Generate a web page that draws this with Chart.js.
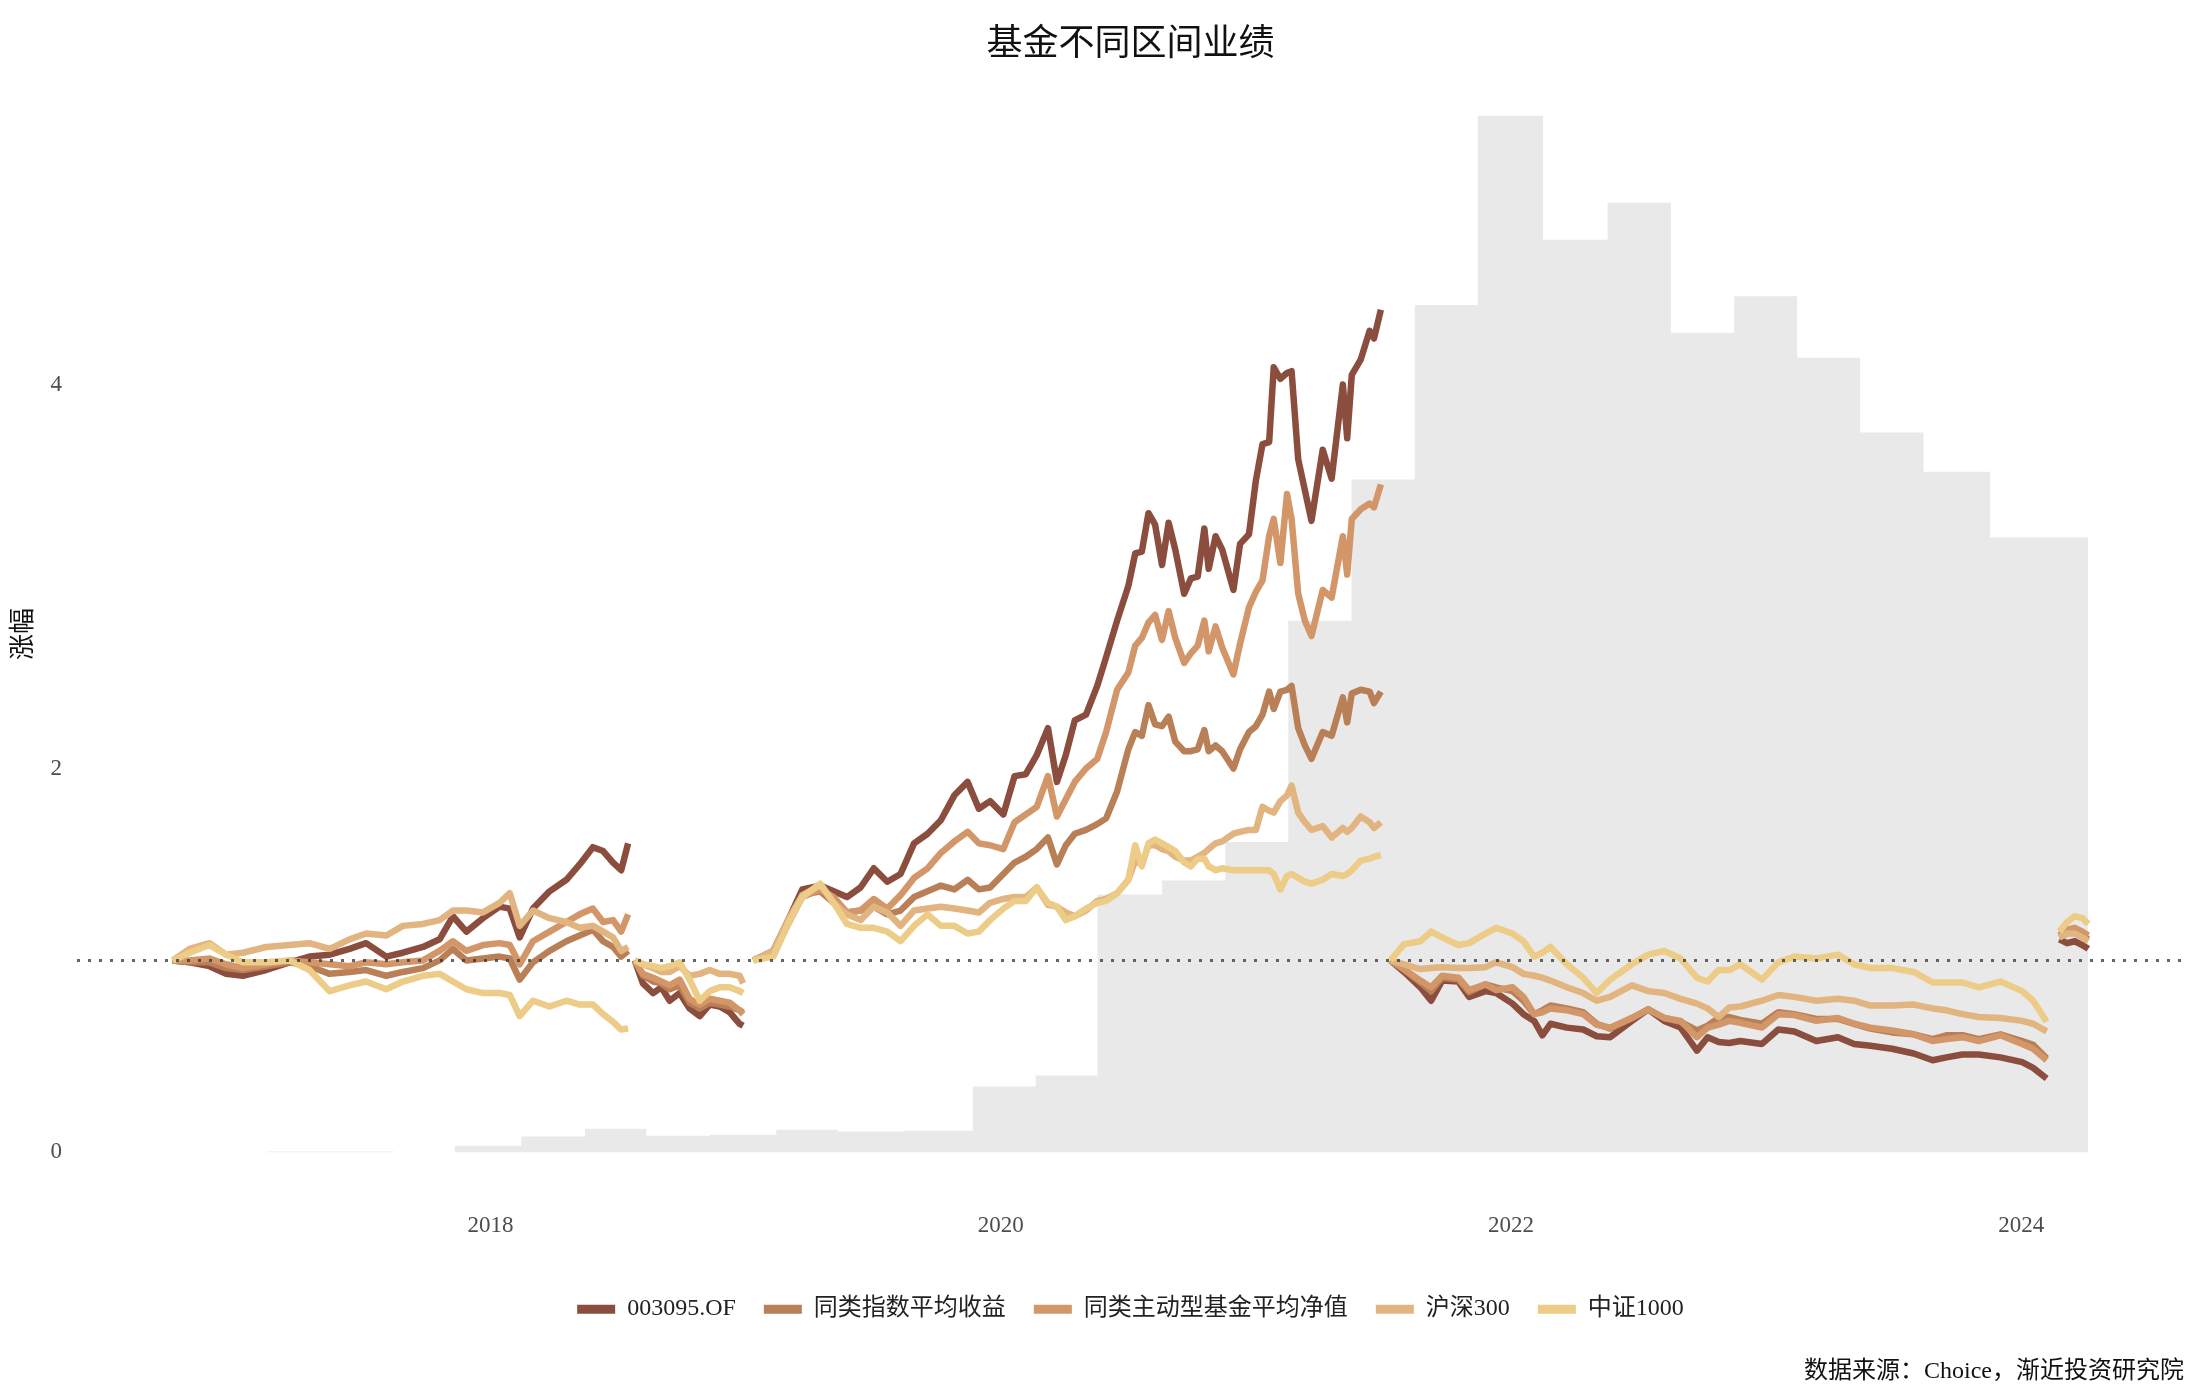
<!DOCTYPE html>
<html>
<head>
<meta charset="utf-8">
<script src="https://cdn.jsdelivr.net/npm/chart.js@4.4.1/dist/chart.umd.min.js"></script>
<style>
  html, body { margin: 0; padding: 0; background: #fff; }
</style>
</head>
<body>
<canvas id="chart" width="2200" height="1400"></canvas>
<script>
// time in decimal years, one array per management period
const tA = [2016.754, 2016.820, 2016.898, 2016.963, 2017.029, 2017.120, 2017.212, 2017.290, 2017.369, 2017.447, 2017.512, 2017.591, 2017.656, 2017.735, 2017.800, 2017.852, 2017.905, 2017.970, 2018.035, 2018.075, 2018.114, 2018.166, 2018.231, 2018.297, 2018.349, 2018.401, 2018.441, 2018.480, 2018.512, 2018.539];
const tB = [2018.565, 2018.597, 2018.637, 2018.669, 2018.702, 2018.741, 2018.780, 2018.820, 2018.859, 2018.898, 2018.937, 2018.976, 2018.990];
const tC = [2019.030, 2019.108, 2019.170, 2019.222, 2019.292, 2019.345, 2019.397, 2019.450, 2019.502, 2019.555, 2019.607, 2019.660, 2019.713, 2019.765, 2019.818, 2019.870, 2019.914, 2019.958, 2020.010, 2020.054, 2020.098, 2020.141, 2020.185, 2020.220, 2020.255, 2020.290, 2020.334, 2020.378, 2020.413, 2020.456, 2020.500, 2020.527, 2020.553, 2020.579, 2020.605, 2020.632, 2020.658, 2020.684, 2020.719, 2020.745, 2020.772, 2020.798, 2020.815, 2020.842, 2020.868, 2020.912, 2020.938, 2020.973, 2021.000, 2021.026, 2021.052, 2021.070, 2021.096, 2021.122, 2021.140, 2021.166, 2021.192, 2021.218, 2021.262, 2021.297, 2021.341, 2021.358, 2021.376, 2021.411, 2021.446, 2021.463, 2021.490];
const tD = [2021.528, 2021.581, 2021.645, 2021.687, 2021.730, 2021.794, 2021.836, 2021.900, 2021.942, 2022.006, 2022.049, 2022.091, 2022.123, 2022.155, 2022.219, 2022.283, 2022.336, 2022.389, 2022.474, 2022.538, 2022.601, 2022.665, 2022.729, 2022.771, 2022.814, 2022.856, 2022.899, 2022.984, 2023.048, 2023.111, 2023.197, 2023.282, 2023.345, 2023.409, 2023.494, 2023.579, 2023.653, 2023.707, 2023.770, 2023.834, 2023.919, 2024.004, 2024.047, 2024.100];
const tE = [2024.150, 2024.180, 2024.210, 2024.240, 2024.263];

// 003095.OF
const fundA = [1.00, 0.99, 0.97, 0.93, 0.92, 0.95, 0.99, 1.02, 1.03, 1.06, 1.09, 1.02, 1.04, 1.07, 1.11, 1.23, 1.15, 1.22, 1.28, 1.27, 1.12, 1.27, 1.36, 1.42, 1.50, 1.59, 1.57, 1.51, 1.47, 1.61];
const fundB = [1.00, 0.88, 0.83, 0.86, 0.79, 0.83, 0.75, 0.71, 0.77, 0.76, 0.73, 0.67, 0.66];
const fundC = [1.00, 1.05, 1.22, 1.37, 1.39, 1.36, 1.33, 1.38, 1.48, 1.41, 1.45, 1.61, 1.66, 1.73, 1.86, 1.93, 1.79, 1.83, 1.76, 1.96, 1.97, 2.07, 2.21, 1.93, 2.07, 2.25, 2.28, 2.43, 2.58, 2.77, 2.95, 3.12, 3.13, 3.33, 3.27, 3.06, 3.28, 3.14, 2.91, 2.99, 3.00, 3.25, 3.04, 3.21, 3.14, 2.93, 3.17, 3.22, 3.50, 3.69, 3.70, 4.09, 4.03, 4.06, 4.07, 3.61, 3.45, 3.29, 3.66, 3.51, 4.00, 3.72, 4.05, 4.13, 4.28, 4.24, 4.39];
const fundD = [1.00, 0.94, 0.86, 0.79, 0.895, 0.89, 0.81, 0.84, 0.83, 0.775, 0.72, 0.685, 0.61, 0.67, 0.65, 0.64, 0.605, 0.60, 0.685, 0.745, 0.685, 0.65, 0.53, 0.60, 0.575, 0.57, 0.58, 0.565, 0.64, 0.63, 0.58, 0.60, 0.565, 0.555, 0.54, 0.515, 0.48, 0.495, 0.51, 0.51, 0.495, 0.47, 0.44, 0.385];
const fundE = [1.11, 1.09, 1.10, 1.08, 1.06];

// 同类指数平均收益
const indexA = [1.00, 0.99, 0.99, 0.96, 0.95, 0.97, 0.99, 0.97, 0.93, 0.94, 0.95, 0.92, 0.94, 0.96, 1.00, 1.06, 1.00, 1.01, 1.02, 1.01, 0.90, 0.99, 1.05, 1.10, 1.13, 1.16, 1.10, 1.07, 1.02, 1.05];
const indexB = [1.00, 0.92, 0.89, 0.88, 0.85, 0.87, 0.78, 0.75, 0.78, 0.77, 0.76, 0.74, 0.73];
const indexC = [1.00, 1.04, 1.20, 1.34, 1.36, 1.30, 1.25, 1.26, 1.28, 1.24, 1.26, 1.33, 1.36, 1.39, 1.37, 1.42, 1.37, 1.38, 1.45, 1.51, 1.54, 1.58, 1.64, 1.50, 1.60, 1.66, 1.68, 1.71, 1.74, 1.88, 2.10, 2.19, 2.17, 2.33, 2.23, 2.22, 2.27, 2.14, 2.09, 2.09, 2.10, 2.20, 2.09, 2.12, 2.09, 2.00, 2.10, 2.19, 2.22, 2.28, 2.40, 2.31, 2.40, 2.41, 2.43, 2.21, 2.12, 2.05, 2.19, 2.17, 2.37, 2.24, 2.39, 2.41, 2.40, 2.34, 2.40];
const indexD = [1.00, 0.95, 0.885, 0.84, 0.91, 0.90, 0.835, 0.875, 0.86, 0.84, 0.79, 0.72, 0.74, 0.765, 0.75, 0.73, 0.67, 0.645, 0.70, 0.745, 0.70, 0.68, 0.635, 0.66, 0.70, 0.705, 0.69, 0.67, 0.73, 0.72, 0.695, 0.695, 0.67, 0.645, 0.625, 0.615, 0.59, 0.61, 0.61, 0.59, 0.615, 0.58, 0.56, 0.49];
const indexE = [1.12, 1.14, 1.15, 1.13, 1.11];

// 同类主动型基金平均净值
const activeA = [1.00, 1.00, 1.01, 0.98, 0.96, 0.98, 1.00, 0.99, 0.98, 0.97, 0.99, 0.98, 0.99, 1.00, 1.05, 1.10, 1.05, 1.08, 1.09, 1.08, 0.98, 1.10, 1.15, 1.20, 1.24, 1.27, 1.20, 1.21, 1.15, 1.24];
const activeB = [1.00, 0.93, 0.91, 0.89, 0.87, 0.90, 0.80, 0.77, 0.80, 0.79, 0.78, 0.74, 0.72];
const activeC = [1.00, 1.04, 1.20, 1.33, 1.37, 1.33, 1.25, 1.26, 1.32, 1.27, 1.34, 1.43, 1.48, 1.56, 1.62, 1.67, 1.61, 1.60, 1.58, 1.72, 1.76, 1.80, 1.96, 1.75, 1.84, 1.93, 2.00, 2.05, 2.19, 2.41, 2.50, 2.64, 2.68, 2.76, 2.80, 2.67, 2.82, 2.68, 2.55, 2.60, 2.64, 2.77, 2.61, 2.74, 2.63, 2.49, 2.65, 2.84, 2.92, 2.98, 3.21, 3.30, 3.07, 3.43, 3.30, 2.91, 2.77, 2.69, 2.93, 2.89, 3.21, 3.01, 3.30, 3.35, 3.38, 3.36, 3.48];
const activeD = [1.00, 0.955, 0.895, 0.86, 0.92, 0.91, 0.845, 0.875, 0.845, 0.86, 0.81, 0.72, 0.73, 0.75, 0.74, 0.72, 0.665, 0.65, 0.70, 0.745, 0.70, 0.685, 0.60, 0.65, 0.665, 0.685, 0.675, 0.65, 0.72, 0.715, 0.685, 0.70, 0.67, 0.65, 0.635, 0.615, 0.58, 0.59, 0.60, 0.58, 0.61, 0.565, 0.54, 0.48];
const activeE = [1.13, 1.16, 1.17, 1.15, 1.13];

// 沪深300
const hs300A = [1.00, 1.06, 1.09, 1.03, 1.04, 1.07, 1.08, 1.09, 1.06, 1.11, 1.14, 1.13, 1.18, 1.19, 1.21, 1.26, 1.26, 1.25, 1.30, 1.35, 1.18, 1.26, 1.22, 1.20, 1.17, 1.18, 1.15, 1.12, 1.05, 1.07];
const hs300B = [1.00, 0.98, 0.96, 0.94, 0.94, 0.97, 0.92, 0.93, 0.95, 0.93, 0.93, 0.92, 0.88];
const hs300C = [1.00, 1.05, 1.22, 1.34, 1.39, 1.30, 1.24, 1.21, 1.28, 1.25, 1.18, 1.26, 1.27, 1.28, 1.27, 1.26, 1.25, 1.30, 1.32, 1.33, 1.33, 1.38, 1.29, 1.28, 1.25, 1.23, 1.26, 1.31, 1.32, 1.35, 1.42, 1.52, 1.50, 1.60, 1.60, 1.58, 1.57, 1.54, 1.52, 1.52, 1.54, 1.56, 1.58, 1.61, 1.62, 1.66, 1.67, 1.68, 1.68, 1.80, 1.78, 1.77, 1.83, 1.86, 1.91, 1.77, 1.72, 1.68, 1.70, 1.64, 1.69, 1.67, 1.69, 1.75, 1.72, 1.69, 1.72];
const hs300D = [1.00, 0.98, 0.955, 0.96, 0.965, 0.96, 0.96, 0.965, 0.99, 0.965, 0.93, 0.92, 0.91, 0.895, 0.86, 0.83, 0.79, 0.81, 0.87, 0.84, 0.83, 0.80, 0.775, 0.75, 0.705, 0.755, 0.76, 0.79, 0.82, 0.81, 0.79, 0.80, 0.79, 0.765, 0.765, 0.77, 0.75, 0.74, 0.72, 0.705, 0.70, 0.685, 0.67, 0.63];
const hs300E = [1.12, 1.14, 1.14, 1.12, 1.10];

// 中证1000
const csi1000A = [1.00, 1.04, 1.08, 1.03, 0.99, 0.99, 1.00, 0.95, 0.84, 0.87, 0.89, 0.85, 0.89, 0.92, 0.93, 0.89, 0.85, 0.83, 0.83, 0.82, 0.71, 0.79, 0.76, 0.79, 0.77, 0.77, 0.72, 0.68, 0.64, 0.645];
const csi1000B = [1.00, 0.98, 0.97, 0.96, 0.97, 0.99, 0.90, 0.79, 0.84, 0.86, 0.86, 0.84, 0.83];
const csi1000C = [1.00, 1.02, 1.20, 1.33, 1.40, 1.30, 1.19, 1.17, 1.17, 1.15, 1.10, 1.18, 1.24, 1.18, 1.18, 1.14, 1.15, 1.21, 1.27, 1.31, 1.31, 1.38, 1.30, 1.28, 1.21, 1.23, 1.27, 1.30, 1.31, 1.35, 1.42, 1.60, 1.49, 1.61, 1.63, 1.61, 1.59, 1.57, 1.51, 1.49, 1.53, 1.53, 1.49, 1.47, 1.48, 1.47, 1.47, 1.47, 1.47, 1.47, 1.47, 1.45, 1.37, 1.44, 1.45, 1.43, 1.41, 1.40, 1.42, 1.45, 1.44, 1.45, 1.47, 1.52, 1.53, 1.54, 1.55];
const csi1000D = [1.00, 1.085, 1.10, 1.15, 1.12, 1.08, 1.09, 1.14, 1.17, 1.14, 1.10, 1.02, 1.04, 1.07, 0.98, 0.91, 0.83, 0.90, 0.98, 1.03, 1.05, 1.01, 0.91, 0.89, 0.95, 0.95, 0.98, 0.90, 0.99, 1.02, 1.01, 1.03, 0.98, 0.96, 0.96, 0.94, 0.885, 0.885, 0.885, 0.86, 0.89, 0.84, 0.79, 0.68];
const csi1000E = [1.15, 1.20, 1.23, 1.22, 1.19];

// background grey area (quarterly steps)
const scaleT = [2016.754, 2017.120, 2017.620, 2017.860, 2018.120, 2018.370, 2018.610, 2018.860, 2019.120, 2019.360, 2019.620, 2019.890, 2020.137, 2020.379, 2020.632, 2020.880, 2021.127, 2021.375, 2021.623, 2021.870, 2022.126, 2022.379, 2022.627, 2022.875, 2023.122, 2023.369, 2023.617, 2023.878, 2024.263];
const scaleV = [0, 0.005, 0, 0.035, 0.083, 0.123, 0.087, 0.092, 0.118, 0.109, 0.113, 0.343, 0.40, 1.343, 1.416, 1.617, 2.77, 3.506, 4.415, 5.40, 4.754, 4.947, 4.27, 4.46, 4.14, 3.75, 3.546, 3.203, 3.203];

const seriesNames = ['003095.OF', '同类指数平均收益', '同类主动型基金平均净值', '沪深300', '中证1000'];
const seriesColors = ['#8b4d3e', '#b98058', '#d29669', '#e2b47f', '#eccc86'];
const seriesValues = [
  [fundA, fundB, fundC, fundD, fundE],
  [indexA, indexB, indexC, indexD, indexE],
  [activeA, activeB, activeC, activeD, activeE],
  [hs300A, hs300B, hs300C, hs300D, hs300E],
  [csi1000A, csi1000B, csi1000C, csi1000D, csi1000E]
];
const segTimes = [tA, tB, tC, tD, tE];
const xTicks = [2018, 2020, 2022, 2024];
const yTicks = [0, 2, 4];

// one dataset per series, periods separated by a null point
function joinSegments(parts) {
  const pts = [];
  parts.forEach((vals, i) => {
    if (i > 0) {
      const prev = segTimes[i - 1];
      pts.push({ x: (prev[prev.length - 1] + segTimes[i][0]) / 2, y: null });
    }
    vals.forEach((v, j) => pts.push({ x: segTimes[i][j], y: v }));
  });
  return pts;
}

const datasets = seriesNames.map((name, i) => ({
  label: name,
  data: joinSegments(seriesValues[i]),
  borderColor: seriesColors[i],
  backgroundColor: seriesColors[i],
  borderWidth: 6.5,
  borderJoinStyle: 'round',
  pointRadius: 0,
  fill: false,
  spanGaps: false,
  order: seriesNames.length - i
}));
datasets.push({
  label: 'scale',
  data: scaleT.map((t, i) => ({ x: t, y: scaleV[i] })),
  borderWidth: 0,
  borderColor: 'rgba(0,0,0,0)',
  backgroundColor: '#e9e9e9',
  fill: 'origin',
  stepped: 'before',
  pointRadius: 0,
  order: 10
});

// ggplot-like 5% expansion
const allT = scaleT.concat(tA, tE);
const xMin0 = Math.min(...allT), xMax0 = Math.max(...allT);
const allY = scaleV.concat(...seriesValues.flat());
const yMin0 = Math.min(0, ...allY), yMax0 = Math.max(...allY);
const xPad = (xMax0 - xMin0) * 0.05, yPad = (yMax0 - yMin0) * 0.05;

const refLine = {
  id: 'refLine',
  afterDatasetsDraw(chart) {
    const { ctx, chartArea: a, scales: { y } } = chart;
    const py = y.getPixelForValue(1);
    ctx.save();
    ctx.strokeStyle = 'rgba(50,50,50,0.75)';
    ctx.lineWidth = 3;
    ctx.setLineDash([3, 8]);
    ctx.beginPath();
    ctx.moveTo(a.left, py);
    ctx.lineTo(a.right, py);
    ctx.stroke();
    ctx.restore();
  }
};

// center title and legend on the panel, as ggplot does
const centerOnPanel = {
  id: 'centerOnPanel',
  afterLayout(chart) {
    const mid = (chart.chartArea.left + chart.chartArea.right) / 2;
    [chart.titleBlock, chart.legend].forEach(b => {
      if (!b) return;
      const d = mid - (b.left + b.right) / 2;
      b.left += d;
      b.right += d;
    });
  }
};

Chart.defaults.font.family = '"Liberation Serif", "Noto Sans CJK SC", serif';

new Chart(document.getElementById('chart'), {
  type: 'line',
  data: { datasets },
  plugins: [refLine, centerOnPanel],
  options: {
    responsive: false,
    animation: false,
    devicePixelRatio: 1,
    layout: { padding: { left: 0, right: 16, top: 0, bottom: 0 } },
    plugins: {
      title: {
        display: true,
        text: '基金不同区间业绩',
        color: '#111',
        font: { size: 36, weight: 'normal', lineHeight: 1 },
        padding: { top: 28, bottom: 0 }
      },
      subtitle: {
        display: true,
        position: 'bottom',
        align: 'end',
        text: '数据来源：Choice，渐近投资研究院',
        color: '#111',
        font: { size: 24 },
        padding: { top: 26, bottom: 14 }
      },
      legend: {
        position: 'bottom',
        labels: {
          boxWidth: 38,
          boxHeight: 9,
          padding: 28,
          color: '#222',
          font: { size: 24 },
          generateLabels(chart) {
            return Chart.defaults.plugins.legend.labels.generateLabels(chart)
              .filter(it => it.datasetIndex < seriesNames.length)
              .sort((a, b) => a.datasetIndex - b.datasetIndex)
              .map(it => Object.assign(it, { lineWidth: 0, fillStyle: seriesColors[it.datasetIndex] }));
          }
        }
      },
      tooltip: { enabled: false }
    },
    scales: {
      x: {
        type: 'linear',
        min: xMin0 - xPad,
        max: xMax0 + xPad,
        grid: { display: false, drawTicks: false },
        border: { display: false },
        afterBuildTicks: s => { s.ticks = xTicks.map(v => ({ value: v })); },
        afterFit: s => { s.height = 65; },
        ticks: { padding: 8, color: '#4d4d4d', font: { size: 23 }, autoSkip: false, maxRotation: 0, callback: v => String(v) }
      },
      y: {
        type: 'linear',
        min: yMin0 - yPad,
        max: yMax0 + yPad,
        grid: { display: false, drawTicks: false },
        border: { display: false },
        afterBuildTicks: s => { s.ticks = yTicks.map(v => ({ value: v })); },
        afterFit: s => { s.width = 77; },
        ticks: { padding: 15, color: '#4d4d4d', font: { size: 23 }, callback: v => String(v) },
        title: { display: true, text: '涨幅', color: '#111', font: { size: 26 }, padding: { top: 9, bottom: 0 } }
      }
    }
  }
});
</script>
</body>
</html>
